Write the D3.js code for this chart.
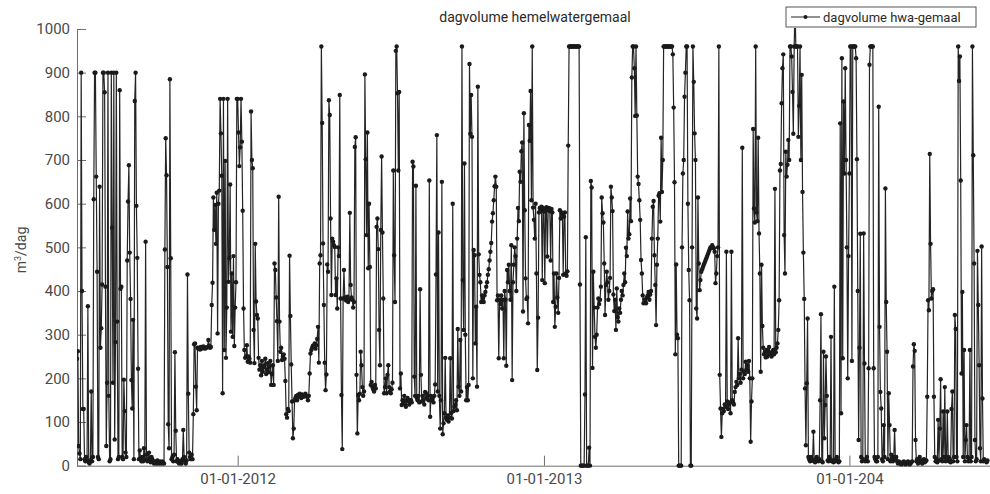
<!DOCTYPE html>
<html>
<head>
<meta charset="utf-8">
<script src="https://cdn.jsdelivr.net/npm/d3@7"></script>
<style>
  body { margin: 0; background: #fff; }
  svg text { font-family: Roboto, "DejaVu Sans", sans-serif; }
</style>
</head>
<body>
<div id="chart"></div>
<script>
/* Labels */
const chartTitle = "dagvolume hemelwatergemaal";
const legendLabel = "dagvolume hwa-gemaal";
const yTicks = [0, 100, 200, 300, 400, 500, 600, 700, 800, 900, 1000];
const xTickDates = ["2012-01-01", "2013-01-01", "2014-01-01"];
const xTickLabels = ["01-01-2012", "01-01-2013", "01-01-204"];

/* Daily volumes (m3/dag), one value per day from the start date */
const start2011 = "2011-06-23";
const vol2011 = [
  245, 262, 45, 28, 15, 900, 400, 130, 130, 15,
  10, 20, 12, 365, 8, 5, 12, 170, 10, 20,
  610, 900, 900, 662, 444, 20, 15, 639, 270, 315,
  415, 900, 900, 855, 410, 45, 190, 900, 160, 10,
  15, 900, 545, 190, 900, 60, 283, 900, 330, 15,
  20, 860, 405, 410, 20, 15, 197, 125, 30, 20,
  470, 605, 688, 488, 382, 196, 131, 334, 15, 835,
  900, 595, 476, 222, 15, 35, 15, 10, 20, 10,
  40, 15, 513, 25, 10, 15, 30, 12, 8, 20,
  15, 10, 5, 8, 10, 5, 12, 6, 5, 10,
  8, 5, 10, 6, 5, 495, 750, 665, 455, 95,
  40, 885, 475, 15, 20, 10, 25, 260, 80, 10,
  15, 8, 5, 10, 10, 5, 15, 82, 20, 10,
  5, 12, 438, 165, 30, 20, 15, 25, 15, 118,
  278, 280, 181, 127, 270, 268, 270, 266, 272, 268,
  270, 273, 270, 268, 271, 270, 272, 288, 275, 270,
  272, 368, 419, 614, 540, 597, 508, 625, 303, 600,
  630, 840, 761, 664, 166, 840, 265, 698, 247, 362,
  840, 421, 475, 644, 307, 440, 295, 480, 274, 362,
  420, 840
];

const start2012 = "2012-01-01";
const vol2012 = [
  840, 763, 686, 729, 840, 742, 584, 360,
  265, 247, 250, 276, 238, 250, 245, 236, 811, 700,
  681, 311, 235, 508, 376, 345, 337, 247, 220, 230,
  207, 240, 215, 225, 230, 245, 210, 220, 235, 214,
  226, 240, 185, 210, 230, 185, 463, 448, 385, 331,
  240, 616, 330, 261, 270, 242, 250, 255, 245, 194,
  118, 110, 130, 125, 481, 343, 232, 147, 63, 85,
  150, 155, 160, 150, 162, 158, 165, 160, 155, 163,
  160, 158, 162, 165, 160, 158, 150, 160, 211, 257,
  265, 270, 275, 272, 280, 268, 276, 290, 318, 236,
  463, 482, 960, 785, 509, 368, 236, 173, 209, 461,
  444, 837, 803, 566, 391, 520, 513, 505, 501, 391,
  429, 360, 500, 480, 849, 383, 162, 38, 383, 448,
  385, 380, 378, 387, 375, 380, 579, 414, 385, 380,
  362, 375, 730, 752, 208, 74, 162, 150, 165, 261,
  230, 180, 160, 170, 896, 702, 528, 763, 452, 600,
  455, 185, 192, 180, 175, 170, 185, 177, 547, 566,
  496, 311, 230, 540, 708, 534, 383, 166, 180, 200,
  166, 208, 230, 180, 170, 166, 175, 190, 676, 482,
  375, 950, 960, 853, 676, 856, 177, 211, 139, 150,
  145, 160, 140, 135, 150, 155, 148, 140, 150, 150,
  145, 696, 685, 204, 160, 641, 155, 150, 160, 145,
  404, 208, 147, 160, 150, 140, 169, 166, 155, 160,
  150, 653, 112, 160, 150, 155, 145, 160, 186, 438,
  757, 170, 534, 160, 85, 150, 650, 72, 97, 120,
  247, 110, 105, 115, 101, 110, 246, 120, 108, 600,
  125, 135, 140, 150, 127, 313, 181, 160, 288, 170,
  960, 425, 311, 692, 300, 150, 180, 150, 185, 920,
  760, 849, 753, 200, 494, 482, 280, 364, 181, 868,
  484, 437, 420, 375, 390, 383, 375, 390, 398, 410,
  420, 437, 450, 470, 490, 510, 559, 578, 608, 640,
  662, 639, 379, 390, 246, 380, 370, 390, 360, 380,
  246, 400, 380, 229, 448, 420, 460, 400, 380, 505,
  196, 420, 460, 500, 480, 400, 520, 590, 560, 673,
  650, 720, 740, 353, 807, 585,
  429, 382, 385, 326, 780, 744, 858, 608, 960, 591, 563, 520, 600, 440,
  219, 339, 580, 590, 585, 593, 425, 590
];

const start2013 = "2013-01-01";
const vol2013 = [
  582, 418, 588, 592, 479, 585, 590, 583, 470, 588, 580,
  375, 440, 318, 364, 440, 385, 350, 430,
  585, 566, 580, 575, 437, 570, 580, 440, 435, 445,
  733, 960, 960, 960, 960, 960, 960, 960, 960, 960, 960, 960, 960, 960,
  415, 0, 0, 0, 0, 0, 163, 523, 0, 0, 0, 41, 0,
  652, 637, 224, 444, 362, 295, 270, 300, 362,
  383, 370, 380, 410, 614, 578, 557, 463,
  345, 414, 444, 420, 380, 400, 430,
  639, 614, 583, 392, 354, 380, 311, 406,
  340, 330, 360, 350, 380, 400, 390,
  414, 440, 420, 499, 480, 582, 520, 530,
  612, 560, 889, 960, 960, 910, 801, 960, 802, 662,
  645, 608, 563, 471, 440, 390, 372,
  380, 375, 372, 385, 390, 398, 380, 392, 400,
  520, 593, 606, 482, 414, 322, 460, 520,
  618, 624, 559, 751, 627, 700,
  960, 960, 960, 960, 960, 960, 960, 960, 960, 960, 960,
  942, 820, 649, 255, 461, 300, 292, 0, 0, 0, 0, 500, 669, 700, 845, 900,
  960, 960, 600, 448, 379, 0, 0, 500, 960, 879, 761, 700, 360, 337, 614, 463,
  402, 425, 444, 450, 455, 460, 465, 470, 475, 480, 485, 490, 495, 500, 500, 505, 500, 498,
  490, 418, 440, 480, 500, 960,
  208, 131, 66, 120, 130, 125, 140, 135,
  490, 147, 130, 140, 145, 120, 490, 150, 145, 140,
  169, 180, 192, 185, 292, 200, 210, 190, 220, 728,
  200, 215, 210, 238, 220, 230, 215, 240, 200, 55, 147, 200,
  771, 589, 557, 960, 580, 560, 751, 532, 440, 215, 460, 320,
  270, 255, 260, 248, 265, 250, 262, 272, 255, 258, 250, 262, 265, 255, 634, 260, 270, 280,
  311, 379, 676, 691, 830, 910, 942, 528, 440, 719, 662, 689,
  746, 700, 960, 960, 937, 856, 760, 960, 1050, 960,
  960, 960, 753, 824, 960, 700, 895, 627,
  488, 382, 177, 47, 189, 337, 20, 15, 10, 20,
  15, 12, 78, 10, 8, 15, 20, 12, 10, 15, 150, 347, 10, 8, 261, 63, 139, 250, 160, 12, 10, 20,
  15, 295, 10, 12, 8, 410, 10, 15, 20, 12, 8, 10,
  784, 120, 933, 246, 834, 669, 910, 700, 500, 200, 480
];

const start2014 = "2014-01-01";
const vol2014 = [
  669,
  960, 960, 240, 960, 960, 960, 960, 933, 702, 400,
  59, 270, 531, 20, 10, 15, 532, 234,
  10, 15, 20, 10, 223, 918, 960,
  960, 960, 960, 223, 20, 15, 10,
  10, 20, 822, 318, 169, 131, 15, 10,
  93, 20, 635, 375, 261, 15, 166, 93,
  10, 25, 15, 10, 20, 82, 15, 20, 10, 5, 10, 8,
  5, 3, 5, 8, 10, 5, 3, 5, 8, 10, 5, 3, 5, 8, 10,
  227, 278, 263, 59, 10, 15, 5,
  10, 20, 8, 12, 5, 10, 15, 8, 10, 12,
  158, 379, 356, 714, 508, 383, 400, 404,
  158, 20, 10, 15, 8, 105, 12, 85,
  198, 15, 10, 124, 20, 180, 10, 15, 124, 20, 10, 15, 8, 130, 170, 10, 20,
  345, 313, 20, 10, 960, 881, 937, 653, 211, 398, 20, 265, 10,
  59, 93, 20, 10, 15, 265, 10, 20, 960,
  711, 463, 59, 10, 15, 492, 368, 230, 40, 10,
  502, 154, 10, 15, 12, 10, 8, 12
];

/* Helpers */
const parseDay = d3.timeParse("%Y-%m-%d");

function toSeries(startStr, values) {
  // Returns [{date, v}] with one entry per day
  const start = parseDay(startStr);
  return values.map((v, i) => ({ date: d3.timeDay.offset(start, i), v: v }));
}

/* Main */
function makeGraph() {
  const width = 990, height = 494;
  const plot = { left: 77, right: 990, top: 29, bottom: 465.7 };

  const data = [].concat(
    toSeries(start2011, vol2011),
    toSeries(start2012, vol2012),
    toSeries(start2013, vol2013),
    toSeries(start2014, vol2014)
  );

  const svg = d3.select("#chart").append("svg")
    .attr("width", width)
    .attr("height", height);

  const x = d3.scaleTime()
    .domain([parseDay("2011-06-23"), parseDay("2014-06-18")])
    .range([plot.left, plot.right]);

  const y = d3.scaleLinear()
    .domain([0, 1000])
    .range([plot.bottom, plot.top]);

  // Clip area for the series
  svg.append("defs").append("clipPath").attr("id", "plotclip")
    .append("rect")
      .attr("x", plot.left)
      .attr("y", plot.top - 1)
      .attr("width", plot.right - plot.left)
      .attr("height", plot.bottom - plot.top + 3);

  // Y axis, ticks inside
  const yAxis = svg.append("g")
    .attr("transform", "translate(" + plot.left + ",0)")
    .call(d3.axisLeft(y).tickValues(yTicks).tickFormat(d3.format("d"))
      .tickSizeInner(-9).tickSizeOuter(0).tickPadding(7));

  // X axis, ticks inside
  const xAxis = svg.append("g")
    .attr("transform", "translate(0," + plot.bottom + ")")
    .call(d3.axisBottom(x)
      .tickValues(xTickDates.map(parseDay))
      .tickFormat((d, i) => xTickLabels[i])
      .tickSizeInner(-10).tickSizeOuter(0).tickPadding(8));

  [yAxis, xAxis].forEach(function(g) {
    g.select(".domain").attr("stroke", "#6e6e6e");
    g.selectAll(".tick line").attr("stroke", "#6e6e6e");
    g.selectAll(".tick text")
      .attr("fill", "#4a4a4a")
      .style("font-size", "15px");
  });

  // Series line and markers
  const series = svg.append("g").attr("clip-path", "url(#plotclip)");

  const line = d3.line()
    .x(d => x(d.date))
    .y(d => y(d.v));

  series.append("path")
    .datum(data)
    .attr("fill", "none")
    .attr("stroke", "#242424")
    .attr("stroke-width", 1.2)
    .attr("d", line);

  series.selectAll("circle")
    .data(data)
    .enter().append("circle")
      .attr("cx", d => x(d.date))
      .attr("cy", d => y(d.v))
      .attr("r", 2.2)
      .attr("fill", "#1a1a1a");

  // Title
  svg.append("text")
    .attr("x", 535)
    .attr("y", 22)
    .attr("text-anchor", "middle")
    .attr("fill", "#2a2a2a")
    .style("font-size", "14px")
    .text(chartTitle);

  // Y label m3/dag
  const yLabel = svg.append("text")
    .attr("transform", "translate(26,250) rotate(-90)")
    .attr("text-anchor", "middle")
    .attr("fill", "#4a4a4a")
    .style("font-size", "14px");
  yLabel.append("tspan").text("m");
  yLabel.append("tspan").attr("baseline-shift", "super").style("font-size", "9px").text("3");
  yLabel.append("tspan").text("/dag");

  // Legend
  const legend = svg.append("g").attr("transform", "translate(786,7)");
  legend.append("rect")
    .attr("width", 190)
    .attr("height", 20)
    .attr("fill", "#fff")
    .attr("stroke", "#555");
  legend.append("line")
    .attr("x1", 5).attr("x2", 34)
    .attr("y1", 10).attr("y2", 10)
    .attr("stroke", "#242424");
  legend.append("circle")
    .attr("cx", 19.5).attr("cy", 10).attr("r", 2)
    .attr("fill", "#1a1a1a");
  legend.append("text")
    .attr("x", 37)
    .attr("y", 15)
    .attr("fill", "#2a2a2a")
    .style("font-size", "13px")
    .text(legendLabel);
}

makeGraph();
</script>
</body>
</html>
